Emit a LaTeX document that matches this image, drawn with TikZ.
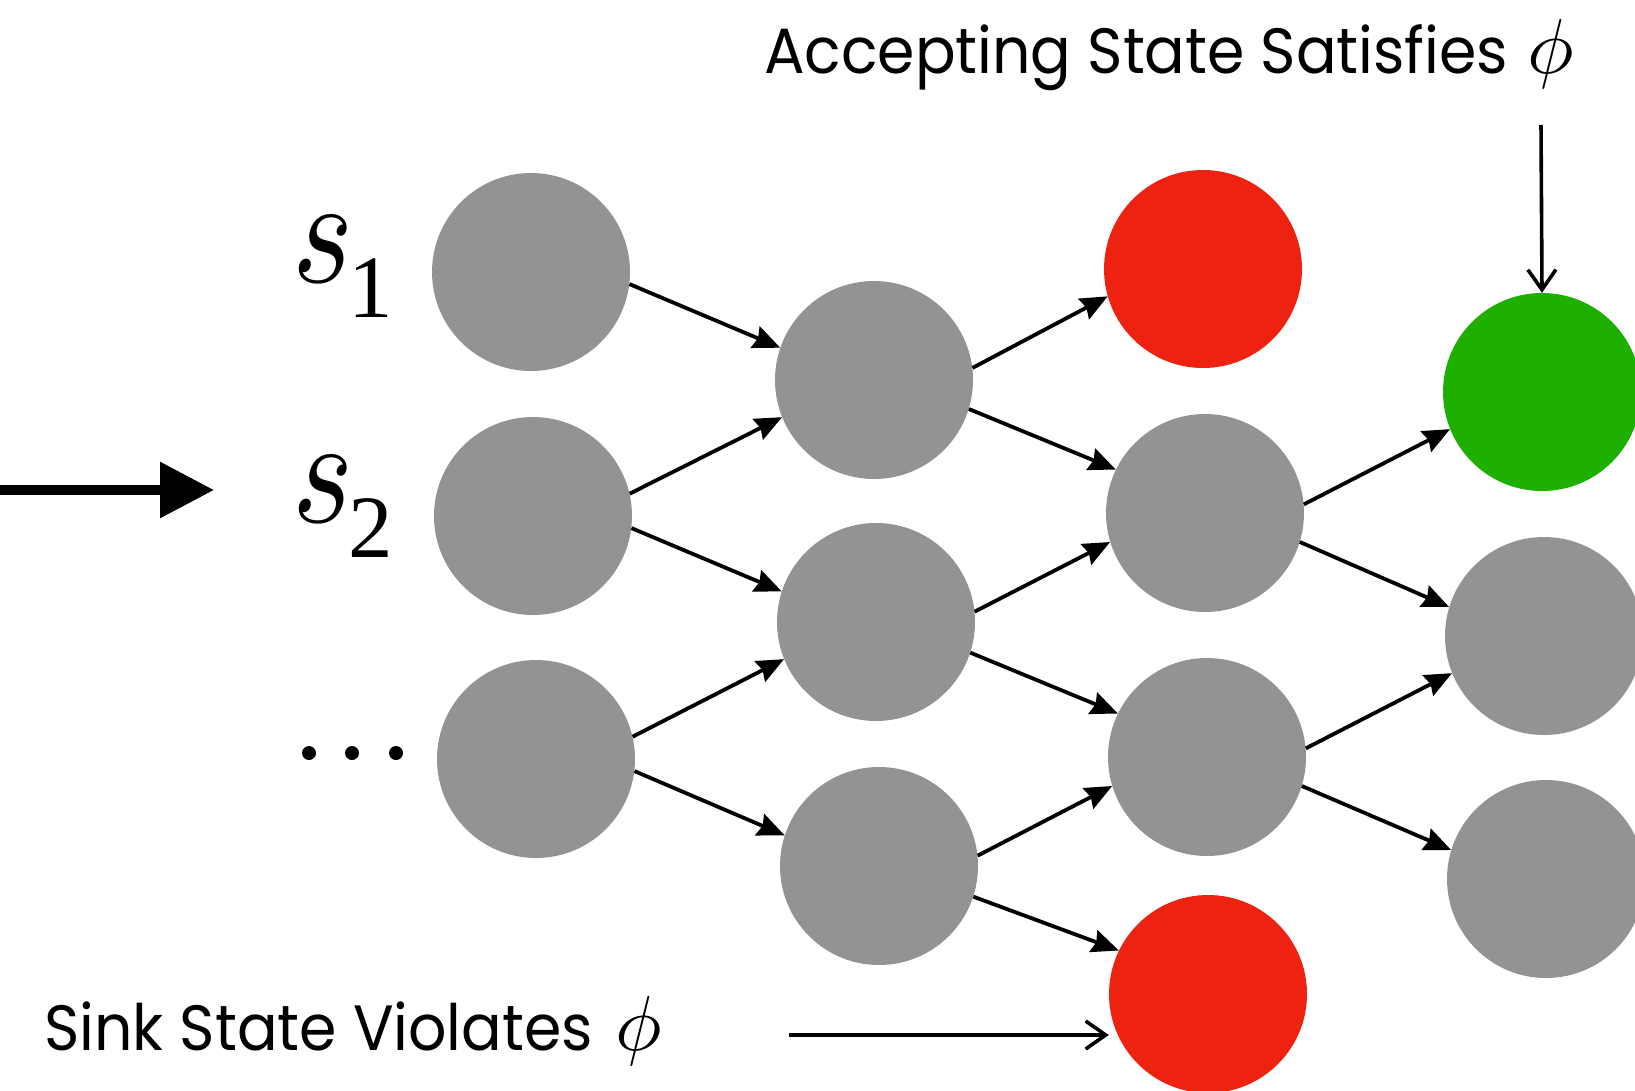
\documentclass[tikz,border=0pt]{standalone}
\usepackage{fontspec}
\setmainfont{Poppins}
\newfontfamily\seriffont{Liberation Serif}
\usetikzlibrary{arrows.meta}
\definecolor{stategray}{RGB}{147,147,147}
\definecolor{statered}{RGB}{238,34,17}
\definecolor{stategreen}{RGB}{30,176,0}
\tikzset{
  state/.style={circle, minimum size=198pt, inner sep=0pt, fill=stategray},
  sink/.style={state, fill=statered},
  accept/.style={state, fill=stategreen},
  trans/.style={line width=3.8pt, -{Stealth[length=27pt,width=23pt,inset=3pt]}},
  pointer/.style={line width=3.6pt, -{Straight Barb[length=20pt,width=28pt]}},
  entry/.style={line width=9.4pt, -{Triangle[length=54pt,width=54pt]}},
  caption/.style={anchor=base west, inner sep=0pt, font=\fontsize{64}{64}\selectfont},
  slabel/.style={anchor=base west, inner sep=0pt},
}
% state name: math italic s with a lowered serif index
\newcommand{\statename}[1]{\scalebox{13.0}[15.4]{\fontsize{10}{10}\selectfont$s$}\hspace{-5pt}%
  \raisebox{-35pt}{\seriffont\fontsize{89}{89}\selectfont #1}}
\newcommand{\bigphi}{\scalebox{7.8}{\fontsize{10}{10}\selectfont$\phi$}}
\newcommand{\captext}[1]{\scalebox{0.94}[1]{#1}}
\begin{document}
\begin{tikzpicture}[x=1pt,y=-1pt]
\useasboundingbox (0,0) rectangle (1635,1090);
\clip (0,0) rectangle (1635,1090);

% column 1
\node[state] (a1) at (531,272) {};
\node[state] (a2) at (533,516) {};
\node[state] (a3) at (536,759) {};
% column 2
\node[state] (b1) at (874,380) {};
\node[state] (b2) at (876,622) {};
\node[state] (b3) at (879,866) {};
% column 3
\node[sink]  (c1) at (1203,269) {};
\node[state] (c2) at (1205,513) {};
\node[state] (c3) at (1207,757) {};
\node[sink]  (c4) at (1208,994) {};
% column 4
\node[accept] (d1) at (1542,392) {};
\node[state]  (d2) at (1544,636) {};
\node[state]  (d3) at (1546,879) {};

% transitions
\draw[trans] (a1.-7) -- (b1.161);
\draw[trans] (a2.13) -- (b1.202);
\draw[trans] (a2.-7) -- (b2.162);
\draw[trans] (a3.13) -- (b2.202);
\draw[trans] (a3.-7) -- (b3.162);

\draw[trans] (b1.7) -- (c1.196);
\draw[trans] (b1.-17) -- (c2.154);
\draw[trans] (b2.6) -- (c2.197);
\draw[trans] (b2.-18) -- (c3.154);
\draw[trans] (b3.6) -- (c3.197);
\draw[trans] (b3.-18) -- (c4.154);

\draw[trans] (c2.5) -- (d1.202);
\draw[trans] (c2.-17) -- (d2.163);
\draw[trans] (c3.5) -- (d2.202);
\draw[trans] (c3.-17) -- (d3.163);

% state labels
\node[slabel] (l1) at (292,282) {\statename{1}};
\node[slabel] (l2) at (292,522) {\statename{2}};
\foreach \i/\x in {1/309,2/352,3/396}
  \fill (\x,753) circle (7pt) coordinate (dot\i);

% entry arrow
\coordinate (entrystart) at (0,490);
\coordinate (entryend) at (214,490);
\draw[entry] (entrystart) -- (entryend);

% captions
\node[caption] (acc) at (764,73) {\captext{Accepting State Satisfies}\hspace{19pt}\bigphi};
\node[caption] (snk) at (44,1050) {\captext{Sink State Violates}\hspace{22pt}\bigphi};
\coordinate (accstart) at (1541,125);
\draw[pointer] (accstart) -- (d1.north);
\coordinate (snkstart) at (789,1035);
\draw[pointer] (snkstart) -- (c4.west |- snkstart);
\end{tikzpicture}
\end{document}
